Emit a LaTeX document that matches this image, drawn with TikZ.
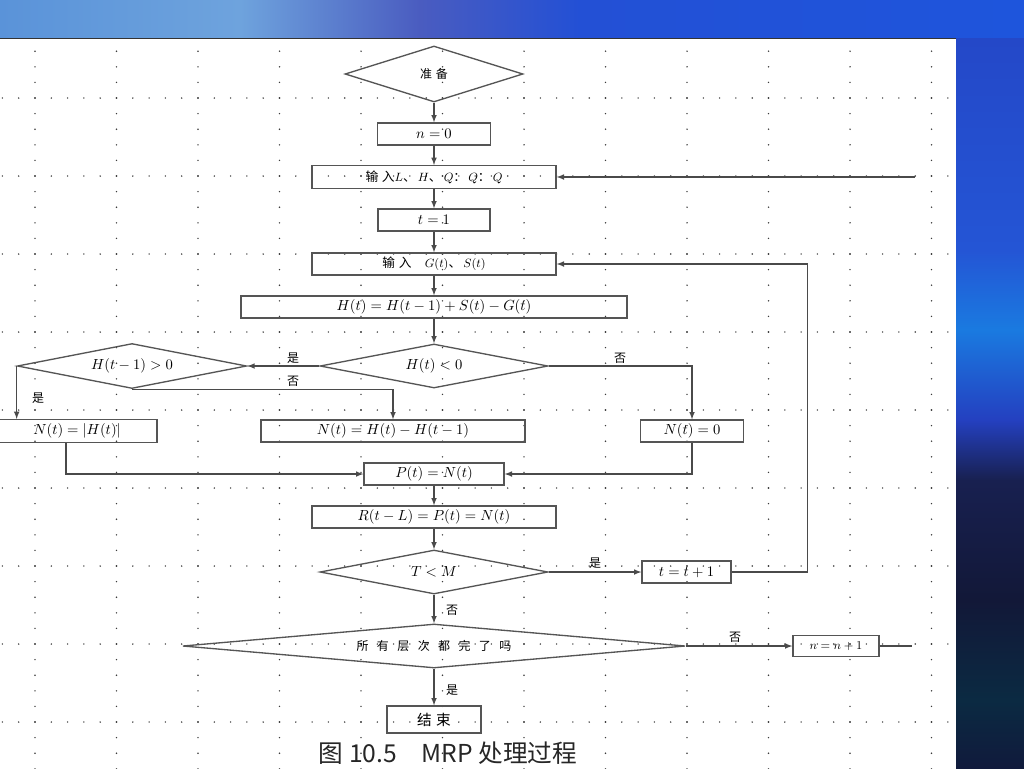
\documentclass[tikz,border=0pt]{standalone}
\usepackage{fontspec}
\usepackage{amsmath}
\usetikzlibrary{arrows,shapes.geometric}
\newfontfamily\cjk{Noto Sans CJK SC}
\newfontfamily\cjkwide[LetterSpace=30]{Noto Sans CJK SC}
\newfontfamily\cjkwider[LetterSpace=70]{Noto Sans CJK SC}

\definecolor{linegray}{HTML}{4A4A4A}
\definecolor{boxgray}{HTML}{555555}
\definecolor{dotgray}{HTML}{3C3C3C}
\definecolor{barA}{HTML}{5A93D9}
\definecolor{barB}{HTML}{6EA3DD}
\definecolor{barC}{HTML}{4A5CC0}
\definecolor{barD}{HTML}{2350D5}
\definecolor{barE}{HTML}{1E55DC}
\definecolor{sideA}{HTML}{2448C8}
\definecolor{sideB}{HTML}{2455D5}
\definecolor{sideC}{HTML}{1A7AE0}
\definecolor{sideD}{HTML}{2440C0}
\definecolor{sideE}{HTML}{182050}
\definecolor{sideF}{HTML}{121838}
\definecolor{sideG}{HTML}{0B2A42}
\definecolor{sideH}{HTML}{101A3C}

\tikzset{
  box/.style={draw=boxgray, line width=1pt, minimum height=16.5pt, inner sep=1pt,
    font=\fontsize{10.8}{12}\selectfont},
  decide/.style={draw=boxgray, line width=1pt, shape=diamond, inner sep=0pt,
    font=\fontsize{10.8}{12}\selectfont},
  arr/.style={-latex, draw=linegray, line width=0.9pt},
  plain/.style={draw=linegray, line width=0.9pt},
  yn/.style={font=\cjk\fontsize{9}{10}\selectfont, inner sep=0pt}
}

\begin{document}
\begin{tikzpicture}[x=0.75pt,y=-0.75pt]
\useasboundingbox (0,0) rectangle (1024,768);
\clip (0,0) rectangle (1024,768);

% slide background
\fill[white] (0,38) rectangle (956,768);
\shade[left color=barA,right color=barB] (0,0) rectangle (240,38);
\shade[left color=barB,right color=barC] (240,0) rectangle (420,38);
\shade[left color=barC,right color=barD] (420,0) rectangle (580,38);
\shade[left color=barD,right color=barE] (580,0) rectangle (1024,38);
\shade[top color=sideA,bottom color=sideB] (956,38) rectangle (1024,250);
\shade[top color=sideB,bottom color=sideC] (956,250) rectangle (1024,330);
\shade[top color=sideC,bottom color=sideD] (956,330) rectangle (1024,420);
\shade[top color=sideD,bottom color=sideE] (956,420) rectangle (1024,480);
\shade[top color=sideE,bottom color=sideF] (956,480) rectangle (1024,600);
\shade[top color=sideF,bottom color=sideG] (956,600) rectangle (1024,700);
\shade[top color=sideG,bottom color=sideH] (956,700) rectangle (1024,768);
\draw[line width=1.1pt,color=black!80] (0,38.5) -- (956,38.5);

% dotted grid
\foreach \gx in {0,...,11} % columns
\foreach \gy in {0,...,46}
\fill[dotgray] (35+81.5*\gx, 51.2+15.6*\gy) circle (0.6pt);
\foreach \gy in {0,...,8} % rows
\foreach \gx in {0,...,58}
\fill[dotgray] (2.4+16.3*\gx, 98+78*\gy) circle (0.6pt);

% steps
\node[decide, aspect=3.2, minimum width=133.5pt, minimum height=42pt] (prep) at (434,74) {\cjkwide\fontsize{9}{10}\selectfont 准备};
\node[box, minimum width=84.75pt] (n0) at (434,134) {$n=0$};
\node[box, minimum width=183pt, minimum height=17pt] (inp1) at (434,177) {\cjkwide\fontsize{9.5}{10}\selectfont 输入$L$、\,$H$、\,$Q$：\,$Q$：\,$Q$};
\node[box, minimum width=84pt] (t1) at (434,220) {$t=1$};
\node[box, minimum width=183pt] (inp2) at (434,264) {\cjkwide\fontsize{9.5}{10}\selectfont 输入\ \ $G(t)$、\,$S(t)$};
\node[box, minimum width=289.5pt] (Hcalc) at (434,307) {$H(t)=H(t-1)+S(t)-G(t)$};
\node[decide, aspect=5.2, minimum width=171pt, minimum height=33pt] (dHneg) at (434,366) {$H(t)<0$};
\node[decide, aspect=5.1, minimum width=172pt, minimum height=33.75pt] (dHprev) at (132,366) {$H(t-1)>0$};
\node[box, minimum width=120pt, minimum height=17pt] (Nabs) at (77,431) {$N(t)=|H(t)|$};
\node[box, minimum width=198pt] (Ndiff) at (393,431) {$N(t)=H(t)-H(t-1)$};
\node[box, minimum width=77.25pt] (N0) at (692,431) {$N(t)=0$};
\node[box, minimum width=105pt] (P) at (434,474) {$P(t)=N(t)$};
\node[box, minimum width=183pt] (R) at (434,517) {$R(t-L)=P(t)=N(t)$};
\node[decide, aspect=5.2, minimum width=171pt, minimum height=33pt] (dTM) at (434,572) {$T<M$};
\node[box, minimum width=66.75pt] (tinc) at (686.5,572) {$t=t+1$};
\node[decide, aspect=11.4, minimum width=377pt, minimum height=33pt] (dAll) at (434,646) {\cjkwider\fontsize{9}{10}\selectfont 所有层次都完了吗};
\node[box, minimum width=64.5pt, minimum height=15.75pt, font=\fontsize{9.5}{11}\selectfont] (ninc) at (836,646) {$n=n+1$};
\node[box, minimum width=70.5pt, minimum height=20.25pt] (end) at (434,719.5) {\cjkwide\fontsize{11}{12}\selectfont 结束};

% main line
\draw[arr] (prep.south) -- (n0.north);
\draw[arr] (n0.south) -- (inp1.north);
\draw[arr] (inp1.south) -- (t1.north);
\draw[arr] (t1.south) -- (inp2.north);
\draw[arr] (inp2.south) -- (Hcalc.north);
\draw[arr] (Hcalc.south) -- (dHneg.north);
\draw[arr] (P.south) -- (R.north);
\draw[arr] (R.south) -- (dTM.north);

% branches
\draw[arr] (dHneg.west) -- (dHprev.east);
\node[yn] (yes1) at (293,358) {是};
\draw[arr] (dHprev.south) -| (Ndiff.north);
\node[yn] (no1) at (293,381) {否};
\draw[arr] (dHprev.west) -- (dHprev.west |- Nabs.north);
\node[yn] (yes2) at (38,398) {是};
\draw[arr] (dHneg.east) -| (N0.north);
\node[yn] (no2) at (620,358) {否};
\draw[arr] ([xshift=-8.25pt]Nabs.south) |- (P.west);
\draw[arr] (N0.south) |- (P.east);
\draw[arr] (dTM.east) -- (tinc.west);
\node[yn] (yes3) at (595,563) {是};
\draw[arr] (tinc.east) -- ++(76,0) |- (inp2.east);
\draw[arr] (dTM.south) -- (dAll.north);
\node[yn] (no3) at (452,610) {否};
\draw[arr] (dAll.east) -- (ninc.west);
\node[yn] (no4) at (735,637) {否};
\draw[arr] (dAll.south) -- (end.north);
\node[yn] (yes4) at (452,690) {是};

% loose ends
\coordinate (backin) at (915,177);
\coordinate (backout) at (912,646);
\draw[arr] (backin) -- (inp1.east);
\draw[plain] (ninc.east) -- (backout);

% caption at the page edge
\node[anchor=north, inner sep=0pt, text=black!85] (cap) at (448,742)
  {\cjk\fontsize{18.5}{22}\selectfont 图 10.5\quad MRP 处理过程};
\end{tikzpicture}
\end{document}
